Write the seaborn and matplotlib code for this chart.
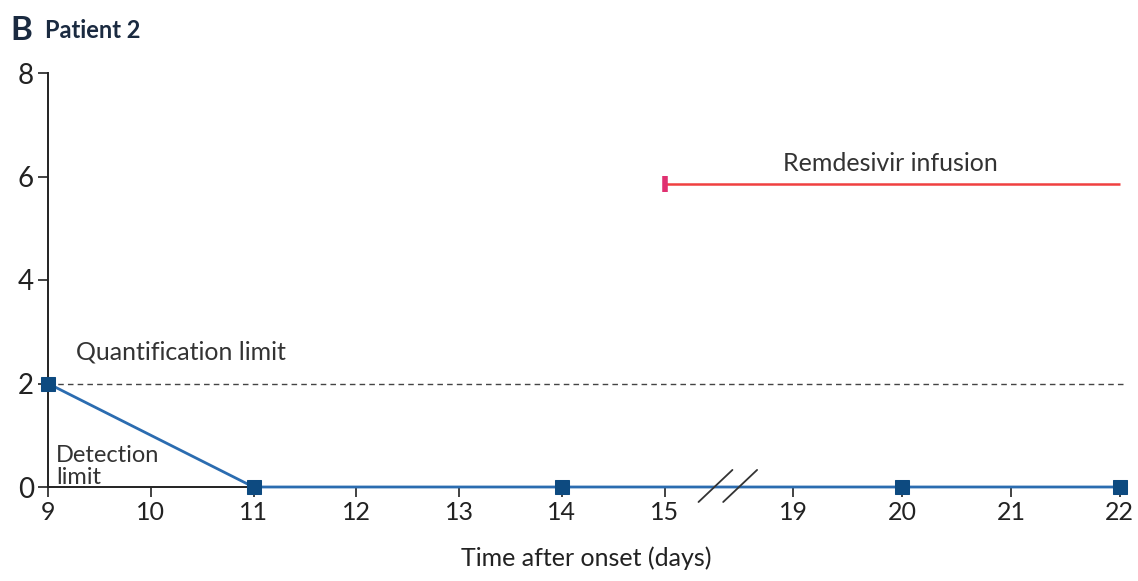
import matplotlib
matplotlib.use("Agg")
import matplotlib.pyplot as plt
import seaborn as sns
import numpy as np
import pandas as pd

# ---- data ----
sample_days = [9, 11, 14, 20, 22]
viral_load = [2, 0, 0, 0, 0]
tick_days = [9, 10, 11, 12, 13, 14, 15, 19, 20, 21, 22]
yticks = [0, 2, 4, 6, 8]
quant_limit = 2
remdesivir_start, remdesivir_end = 15, 22
remdesivir_level = 5.85

sns.set_theme(style="white")
plt.rcParams['font.family'] = ['Lato', 'DejaVu Sans']

def pos(d):
    # broken axis: days 9-15 one unit apart, gap, then days 19-22
    d = np.asarray(d, dtype=float)
    return np.where(d <= 15, d - 9, 7.25 + (d - 19) * 1.06)

fig = plt.figure(figsize=(11.38, 5.81), dpi=100)
ax = fig.add_axes([48/1138, 1-487/581, (1125-48)/1138, (487-73)/581])

df = pd.DataFrame({"x": pos(sample_days), "y": viral_load})

# quantification limit
ax.axhline(quant_limit, color="#444444", lw=1.0, ls=(0, (4, 3)), zorder=1)

# remdesivir infusion
ax.plot(pos([remdesivir_start, remdesivir_end]), [remdesivir_level]*2,
        color="#f04040", lw=1.8, solid_capstyle="butt", zorder=2)
ax.plot(pos([remdesivir_start]), [remdesivir_level], marker="|", ms=12, mew=4,
        color="#e03070", zorder=3)

sns.lineplot(data=df, x="x", y="y", ax=ax, color="#2b6cb0", lw=2.0,
             marker="s", markersize=10, markeredgecolor="#0d4a80",
             markerfacecolor="#0d4a80", zorder=5)
for ln in ax.lines:
    ln.set_clip_on(False)

ax.set_xlim(0, float(pos([22])[0]) + 0.05)
ax.set_ylim(0, 8)
ax.set_xticks(pos(tick_days))
ax.set_xticklabels([str(d) for d in tick_days], fontsize=18, color="#222222")
ax.set_yticks(yticks)
ax.set_yticklabels([str(v) for v in yticks], fontsize=20, color="#222222")
ax.tick_params(axis="both", direction="out", length=7, width=1.2, color="#222222",
               bottom=True, left=True, pad=3)
for s in ["top", "right"]:
    ax.spines[s].set_visible(False)
for s in ["left", "bottom"]:
    ax.spines[s].set_color("#222222")
    ax.spines[s].set_linewidth(1.4)
ax.set_xlabel("Time after onset (days)", fontsize=18, color="#222222", labelpad=16)
ax.set_ylabel("")

# axis break marks
for x0 in [6.33, 6.57]:
    ax.plot([x0, x0 + 0.33], [-0.29, 0.33], color="#333333", lw=1.3, clip_on=False, zorder=6)

# annotations
ax.text(0.27, 2.6, "Quantification limit", fontsize=18, color="#333333", va="center", ha="left")
ax.text(0.08, -0.02, "Detection\nlimit", fontsize=17, color="#333333", va="bottom", ha="left",
        linespacing=1.05)
ax.text(8.2, 6.25, "Remdesivir infusion", fontsize=18, color="#333333", va="center", ha="center")

fig.text(10/1138, 1-30/581, "B", fontsize=24, fontweight="bold", color="#1a2a40", va="center")
fig.text(45/1138, 1-30/581, "Patient 2", fontsize=17, fontweight="bold", color="#1a2a40", va="center")

fig.savefig("out.png", dpi=100)
